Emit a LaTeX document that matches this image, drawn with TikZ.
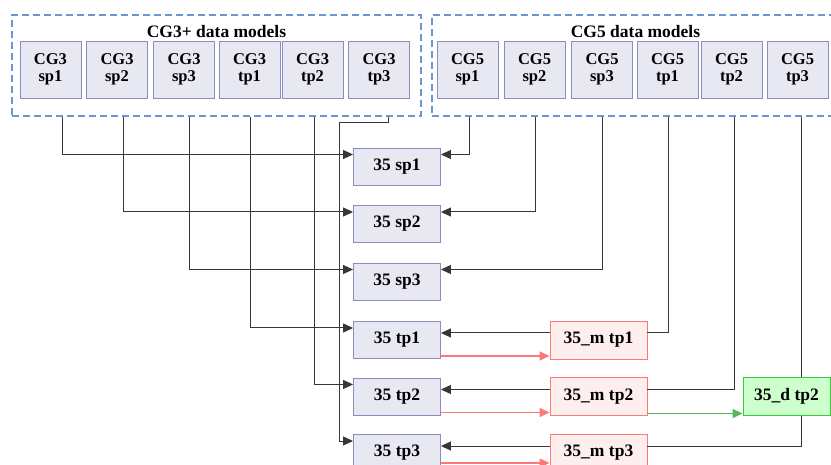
\documentclass[tikz,border=0pt]{standalone}
\usepackage{fontspec}
\setmainfont{Liberation Serif}
\usetikzlibrary{arrows.meta, positioning, calc}
\definecolor{GroupBlue}{RGB}{108, 150, 205}
\definecolor{ModelFill}{RGB}{232, 232, 242}
\definecolor{ModelLine}{RGB}{140, 140, 190}
\definecolor{MeanFill}{RGB}{255, 238, 238}
\definecolor{MeanLine}{RGB}{255, 120, 120}
\definecolor{DiffFill}{RGB}{204, 255, 204}
\definecolor{DiffLine}{RGB}{60, 200, 60}
\definecolor{DiffArrow}{RGB}{30, 160, 30}
\definecolor{LinkGray}{RGB}{55, 55, 55}

\tikzset{
  grp/.style={draw=GroupBlue, line width=1.6pt, dash pattern=on 7pt off 4pt, minimum height=101pt, inner sep=0pt},
  mdl/.style={draw=ModelLine, fill=ModelFill, line width=0.9pt, minimum width=61pt, minimum height=57pt, inner sep=0pt, align=center, font=\fontsize{16.5}{17}\selectfont\bfseries},
  res/.style={draw=ModelLine, fill=ModelFill, line width=0.9pt, minimum width=87pt, minimum height=37pt, inner sep=0pt},
  mres/.style={res, draw=MeanLine, fill=MeanFill, minimum width=97pt, minimum height=38pt},
  dres/.style={res, draw=DiffLine, fill=DiffFill, minimum height=38pt},
  wire/.style={draw=LinkGray, line width=1pt},
  link/.style={wire, -{Triangle[length=10pt, width=9pt]}},
}

\begin{document}
\begin{tikzpicture}[x=1pt, y=-1pt, font=\fontsize{17.5}{19}\selectfont\bfseries]
\useasboundingbox (0,0) rectangle (831,465);
% model groups
\node[grp, minimum width=409pt] (g3grp) at (216.5,65.5) {};
\node[grp, minimum width=410pt] (g5grp) at (637,65.5) {};
\node[anchor=base] at (216.5,37.5) {CG3+ data models};
\node[anchor=base] at (635.5,37.5) {CG5 data models};
\foreach \n/\x in {sp1/50.5, sp2/117, sp3/184, tp1/249.5, tp2/312.5, tp3/379}
  \node[mdl] (g3\n) at (\x,69.5) {CG3\\\n};
\foreach \n/\x in {sp1/467.5, sp2/534.5, sp3/602, tp1/667.5, tp2/731.5, tp3/797.5}
  \node[mdl] (g5\n) at (\x,69.5) {CG5\\\n};

% results
\foreach \n/\y in {sp1/166.5, sp2/224, sp3/281.5, tp1/340, tp2/396.5, tp3/453}
  \node[res] (r\n) at (397,\y) {35 \n};
\foreach \n/\y in {tp1/340, tp2/396.5, tp3/453}
  \node[mres] (m\n) at (598.5,\y) {35\_m \n};
\node[dres] (dtp2) at (786.5,396.5) {35\_d tp2};

% CG3 side
\foreach \n/\dx in {sp1/11.5, sp2/6, sp3/5, tp1/0.5, tp2/1.5}
  \draw[link] ([xshift=\dx]g3\n |- g3grp.south) |- ([yshift=12]r\n.west);
\coordinate (bend3) at (339,123);
\draw[link] ([xshift=9]g3tp3 |- g3grp.south) |- (bend3) |- ([yshift=12]rtp3.west);

% CG5 side
\foreach \n/\dx in {sp1/1.5, sp2/0.5, sp3/0}
  \draw[link] ([xshift=\dx]g5\n |- g5grp.south) |- ([yshift=12]r\n.east);
\foreach \n/\dx in {tp1/0.5, tp2/2.5}
  \draw[wire] ([xshift=\dx]g5\n |- g5grp.south) |- ([yshift=7]m\n.east);
\draw[wire] ([xshift=3.5]g5tp3 |- g5grp.south) -- ([xshift=3.5]g5tp3 |- dtp2.north);
\draw[wire] ([xshift=3.5]g5tp3 |- dtp2.south) |- ([yshift=7]mtp3.east);

% back and forth
\foreach \n/\dy in {tp1/-16, tp2/-16, tp3/-10} {
  \draw[link] ([yshift=7]m\n.west) -- ([yshift=7]r\n.east);
  \draw[link, draw=MeanLine, fill=MeanLine, line width=1.4pt] ([yshift=\dy]r\n.east) -- ([yshift=\dy]m\n.west);
}
\draw[link, draw=DiffArrow!75, fill=DiffArrow, line width=1.4pt] ([yshift=-17]mtp2.east) -- ([yshift=-17]dtp2.west);
\end{tikzpicture}
\end{document}
